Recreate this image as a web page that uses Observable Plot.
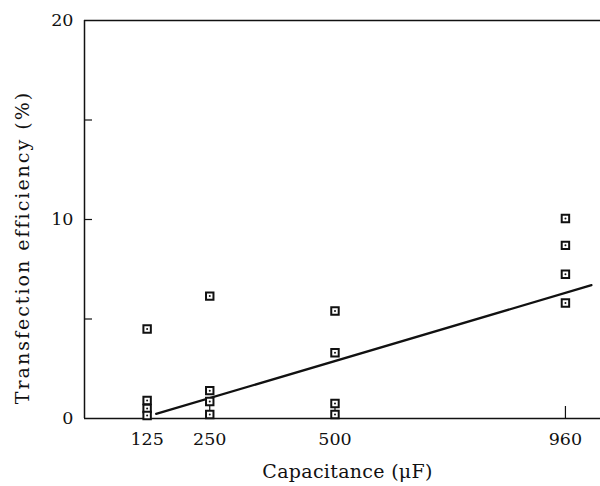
<!DOCTYPE html>
<html>
<head>
<meta charset="utf-8">
<script src="https://cdn.jsdelivr.net/npm/d3@7"></script>
<script src="https://cdn.jsdelivr.net/npm/@observablehq/plot@0.6"></script>
<style>
  html, body { margin: 0; padding: 0; background: #fff; }
  #chart svg { display: block; }
</style>
</head>
<body>
<div id="chart"></div>
<script>
// Capacitance groups (µF) and transfection efficiency (%) readings
const capacitance = [125, 125, 125, 125, 250, 250, 250, 250, 500, 500, 500, 500, 960, 960, 960, 960];
const efficiency  = [4.5, 0.9, 0.5, 0.15, 6.15, 1.4, 0.85, 0.2, 5.4, 3.3, 0.75, 0.2, 10.05, 8.7, 7.25, 5.8];
// Fitted line end points
const fitX = [143, 1012];
const fitY = [0.23, 6.7];
// Tick values
const xTicks = [125, 250, 500, 960];
const yLabelTicks = [0, 10, 20];
const yMinorTicks = [5, 10, 15];
const xLabel = "Capacitance (μF)";
const yLabel = "Transfection efficiency (%)";

const points = capacitance.map((c, i) => ({c, e: efficiency[i]}));
const fit = fitX.map((x, i) => ({x, y: fitY[i]}));

const W = 600, H = 486, mL = 84, mR = 0, mT = 20, mB = 68;
const font = "'DejaVu Serif', serif";

const chart = Plot.plot({
  width: W, height: H,
  marginLeft: mL, marginRight: mR, marginTop: mT, marginBottom: mB,
  style: {fontFamily: font, background: "#fff", color: "#111"},
  x: {domain: [0, 1030]},
  y: {domain: [0, 20]},
  marks: [
    Plot.ruleY([0, 20], {stroke: "#111", strokeWidth: 1.5}),
    Plot.ruleX([0], {stroke: "#111", strokeWidth: 1.5}),
    Plot.tickY(yMinorTicks, {stroke: "#111", strokeWidth: 1.2, insetRight: W - mL - mR - 8}),
    Plot.tickX(xTicks, {stroke: "#111", strokeWidth: 1.2, insetTop: H - mT - mB - 12}),
    Plot.axisY({ticks: yLabelTicks, tickSize: 0, tickPadding: 11, fontSize: 17.5, fontFamily: font, label: null}),
    Plot.axisX({ticks: xTicks, tickSize: 0, tickPadding: 14, fontSize: 17.5, fontFamily: font, label: null}),
    Plot.line(fit, {x: "x", y: "y", stroke: "#111", strokeWidth: 2.2}),
    Plot.dot(points, {x: "c", y: "e", symbol: "square", r: 4.2, stroke: "#111", strokeWidth: 2, fill: "#fff"}),
    Plot.dot(points, {x: "c", y: "e", r: 1, fill: "#111", stroke: null}),
    Plot.text([xLabel], {frameAnchor: "bottom", dx: 5, dy: 59, fontSize: 19, fontFamily: font, fill: "#111"}),
    Plot.text([yLabel], {frameAnchor: "left", textAnchor: "middle", dx: -62, dy: 28, rotate: -90, fontSize: 19, fontFamily: font, fill: "#111"})
  ]
});
// Looser letter spacing, like the reference's typeset labels
d3.select(chart).selectAll("text")
  .filter(function () { return this.textContent === yLabel; })
  .style("letter-spacing", "2px");
d3.select(chart).selectAll("text")
  .filter(function () { return this.textContent === xLabel; })
  .style("letter-spacing", "0.3px");
document.getElementById("chart").appendChild(chart);
</script>
</body>
</html>
